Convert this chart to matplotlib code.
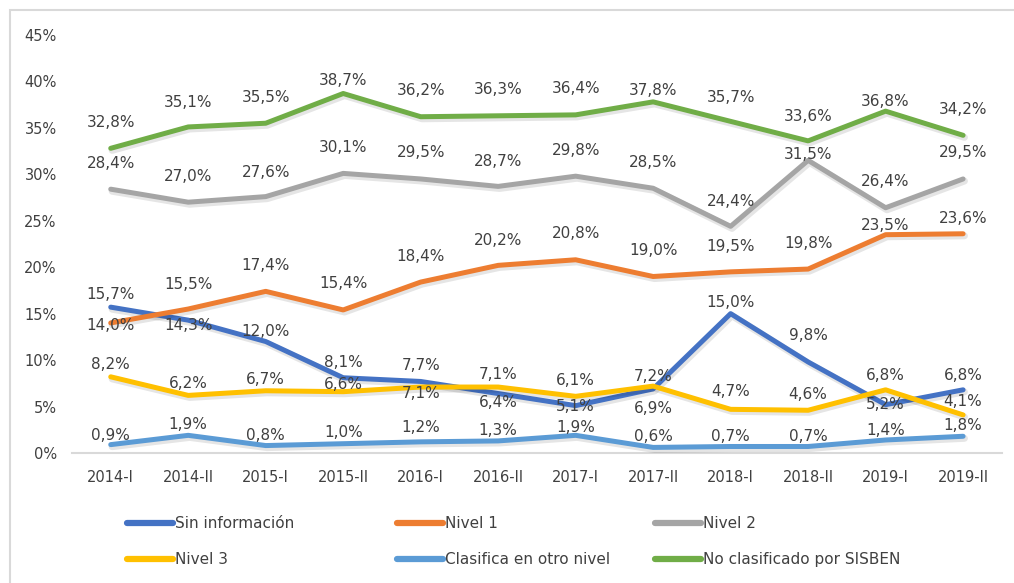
import numpy as np
import matplotlib
matplotlib.use('Agg')
import matplotlib.pyplot as plt
import matplotlib.patheffects as pe
from matplotlib.patches import Rectangle
from matplotlib.ticker import FuncFormatter

periods = ['2014-I', '2014-II', '2015-I', '2015-II', '2016-I', '2016-II',
           '2017-I', '2017-II', '2018-I', '2018-II', '2019-I', '2019-II']

sin_info = [15.7, 14.3, 12.0, 8.1, 7.7, 6.4, 5.1, 6.9, 15.0, 9.8, 5.2, 6.8]
nivel1 = [14.0, 15.5, 17.4, 15.4, 18.4, 20.2, 20.8, 19.0, 19.5, 19.8, 23.5, 23.6]
nivel2 = [28.4, 27.0, 27.6, 30.1, 29.5, 28.7, 29.8, 28.5, 24.4, 31.5, 26.4, 29.5]
nivel3 = [8.2, 6.2, 6.7, 6.6, 7.1, 7.1, 6.1, 7.2, 4.7, 4.6, 6.8, 4.1]
otro_nivel = [0.9, 1.9, 0.8, 1.0, 1.2, 1.3, 1.9, 0.6, 0.7, 0.7, 1.4, 1.8]
no_clasif = [32.8, 35.1, 35.5, 38.7, 36.2, 36.3, 36.4, 37.8, 35.7, 33.6, 36.8, 34.2]

names = ['Sin información', 'Nivel 1', 'Nivel 2', 'Nivel 3',
         'Clasifica en otro nivel', 'No clasificado por SISBEN']
colors = ['#4472C4', '#ED7D31', '#A5A5A5', '#FFC000', '#5B9BD5', '#70AD47']

# vertical offset of each data label (pixels, + = above the point)
lab_off = [
    [13, -5, 10, 15, 16, -9, -1, -20, 11, 26, 0, 14],
    [-3, 25, 26, 26, 26, 25, 26, 26, 25, 26, 9, 15],
    [26, 26, 24, 26, 26, 25, 26, 26, 25, 6, 26, 26],
    [12, 12, 11, 7, -6, 13, 16, 10, 18, 16, 14, 13],
    [9, 11, 10, 11, 14, 10, 8, 11, 10, 10, 9, 11],
    [26, 24, 26, 13, 26, 26, 26, 11, 24, 24, 10, 26],
]

series = [sin_info, nivel1, nivel2, nivel3, otro_nivel, no_clasif]
txt = '#404040'

fig = plt.figure(figsize=(10.14, 5.83), dpi=100)
ax = fig.add_axes([0.071, 0.223, 0.917, 0.717])
x = np.arange(len(periods))

lines = []
for i, (vals, name, c) in enumerate(zip(series, names, colors)):
    ln, = ax.plot(x, vals, color=c, lw=3.6, label=name, zorder=2 + i,
                  solid_capstyle='round', solid_joinstyle='round',
                  path_effects=[pe.SimpleLineShadow(offset=(1, -1.5), shadow_color='black',
                                                    alpha=0.1, linewidth=5),
                                pe.Normal()])
    lines.append(ln)

for vals, offs in zip(series, lab_off):
    for xi, v, o in zip(x, vals, offs):
        ax.annotate(f'{v:.1f}%'.replace('.', ','), (xi, v), xytext=(0, o),
                    textcoords='offset pixels', ha='center', va='center',
                    fontsize=11, color=txt, zorder=20)

ax.set_xlim(-0.5, len(periods) - 0.5)
ax.set_ylim(0, 45)
ax.set_yticks(np.arange(0, 46, 5))
ax.yaxis.set_major_formatter(FuncFormatter(lambda v, p: f'{v:.0f}%'))
ax.set_xticks(x)
ax.set_xticklabels(periods)
ax.tick_params(axis='both', length=0, labelsize=10.5, colors=txt)
ax.tick_params(axis='y', pad=11)
ax.tick_params(axis='x', pad=12)
for s in ['top', 'right', 'left']:
    ax.spines[s].set_visible(False)
ax.spines['bottom'].set_color('#D9D9D9')
ax.spines['bottom'].set_linewidth(1.5)

# legend: three columns, two rows
col_x = [127, 397, 655]
for k in range(3):
    lg = fig.legend(handles=lines[k::3], loc='upper left',
                    bbox_to_anchor=(col_x[k] / 1014, 0.115),
                    frameon=False, fontsize=11, handlelength=3.0,
                    handletextpad=0.15, borderpad=0, borderaxespad=0,
                    labelspacing=1.4)
    for t in lg.get_texts():
        t.set_color(txt)
    for h in lg.legend_handles:
        h.set_path_effects([])
        h.set_linewidth(4.5)

fig.patches.append(Rectangle((10 / 1014, -0.05), 1.2, 1.05 - 10 / 583,
                             transform=fig.transFigure, fill=False,
                             edgecolor='#D9D9D9', lw=1.5))

fig.savefig('out.png', dpi=100)
